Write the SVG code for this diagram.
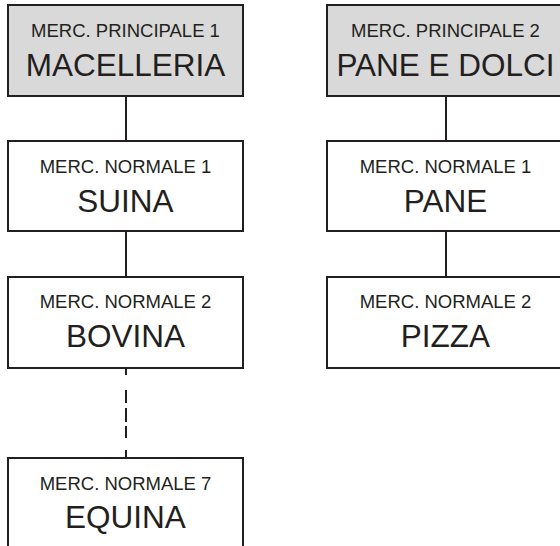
<svg xmlns="http://www.w3.org/2000/svg" width="560" height="546" viewBox="0 0 560 546">
<style>
.box{fill:#fff;stroke:#231f20;stroke-width:2}
.main{fill:#d9d9d9}
.sm{font-family:"Liberation Sans",Arial,sans-serif;font-size:18.5px;fill:#231f20;text-anchor:middle}
.bg{font-family:"Liberation Sans",Arial,sans-serif;font-size:31.5px;fill:#231f20;text-anchor:middle}
.con{stroke:#231f20;stroke-width:2;fill:none}
</style>
<rect width="560" height="546" fill="#fff"/>
<g id="connectors">
<path class="con" d="M126 96V141M126 231V277M446 96V141M446 231V277"/>
<path class="con" d="M126 368V375M126 390V403M126 408V422M126 426V438M126 450V458"/>
</g>
<g id="macelleria">
<rect class="box main" x="8" y="5" width="235" height="91"/>
<text class="sm" x="125.5" y="37">MERC. PRINCIPALE 1</text>
<text class="bg" x="125.5" y="75.5">MACELLERIA</text>
</g>
<g id="suina">
<rect class="box" x="8" y="141" width="235" height="90"/>
<text class="sm" x="125.5" y="173">MERC. NORMALE 1</text>
<text class="bg" x="125.5" y="211.5">SUINA</text>
</g>
<g id="bovina">
<rect class="box" x="8" y="277" width="235" height="91"/>
<text class="sm" x="125.5" y="308">MERC. NORMALE 2</text>
<text class="bg" x="125.5" y="347">BOVINA</text>
</g>
<g id="equina">
<rect class="box" x="8" y="458" width="235" height="100"/>
<text class="sm" x="125.5" y="490">MERC. NORMALE 7</text>
<text class="bg" x="125.5" y="528">EQUINA</text>
</g>
<g id="pane-e-dolci">
<rect class="box main" x="327" y="5" width="240" height="91"/>
<text class="sm" x="445.5" y="37">MERC. PRINCIPALE 2</text>
<text class="bg" x="445.5" y="75.5">PANE E DOLCI</text>
</g>
<g id="pane">
<rect class="box" x="327" y="141" width="240" height="90"/>
<text class="sm" x="445.5" y="173">MERC. NORMALE 1</text>
<text class="bg" x="445.5" y="211.5">PANE</text>
</g>
<g id="pizza">
<rect class="box" x="327" y="277" width="240" height="91"/>
<text class="sm" x="445.5" y="308">MERC. NORMALE 2</text>
<text class="bg" x="445.5" y="347">PIZZA</text>
</g>
</svg>
